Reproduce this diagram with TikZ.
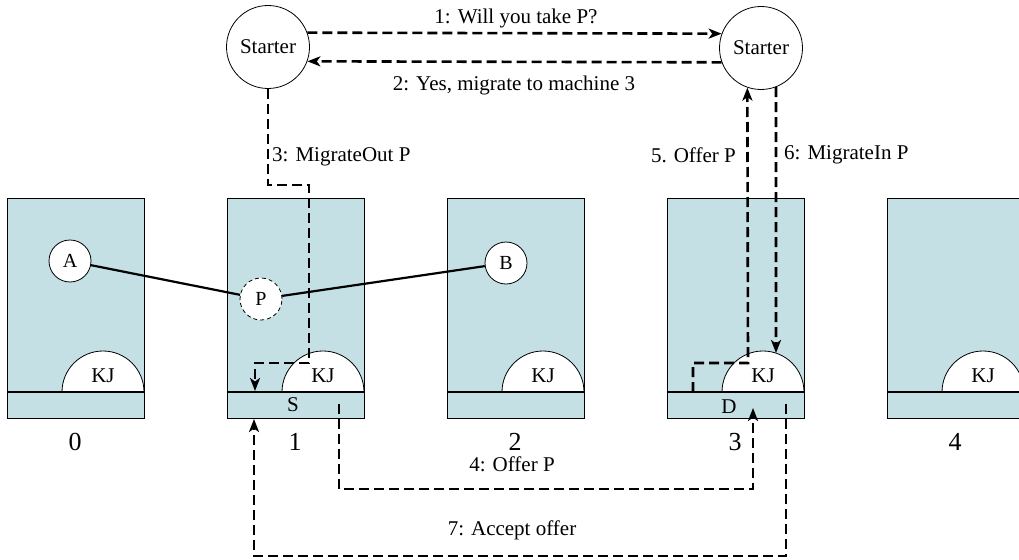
\documentclass[tikz,border=0pt]{standalone}
\usepackage{fontspec}
\setmainfont{Liberation Serif}
\usetikzlibrary{arrows.meta}
\definecolor{mach}{RGB}{197,224,228}
\begin{document}
\begin{tikzpicture}[x=1pt,y=-1pt,
  machbox/.style={draw=black, line width=0.8pt, fill=mach, minimum width=137pt, minimum height=220pt, inner sep=0pt, anchor=north west},
  proc/.style={circle, draw, line width=0.8pt, fill=white, minimum size=42pt, inner sep=0pt, font=\fontsize{20}{24}\selectfont},
  starter/.style={circle, draw, line width=0.8pt, fill=white, minimum size=83pt, inner sep=0pt, font=\fontsize{21}{25}\selectfont},
  msg/.style={draw, line width=2.6pt, dash pattern=on 10pt off 5pt, -{Stealth[length=13pt,width=10pt,inset=3.5pt]}},
  lbl/.style={font=\fontsize{21}{25}\selectfont, inner sep=0pt},
  num/.style={font=\fontsize{26}{30}\selectfont, inner sep=0pt},
  sep/.style={line width=2.2pt},
  link/.style={line width=2.2pt},
  kjarc/.style={draw, line width=0.8pt, fill=white}
]
\useasboundingbox (0,0) rectangle (1019,559);

% machines
\foreach \i in {0,...,4}{
  \node[machbox] (m\i) at ({7+220*\i},198) {};
  \path[kjarc] ({7+220*\i+137-82},392) arc (180:360:41) -- cycle;
  \node[lbl] (kj\i) at ({7+220*\i+137-41},376) {KJ};
  \draw[sep] ({7+220*\i},392) -- ({7+220*\i+137},392);
  \node[num] (n\i) at ({7+220*\i+68},442) {\i};
}
\node[lbl] (S) at (293,405) {S};
\node[lbl] (D) at (729,407) {D};

% processes
\node[proc] (A) at (70,261) {A};
\node[proc, dash pattern=on 4pt off 3pt] (P) at (261,299) {P};
\node[proc] (B) at (506,263) {B};
\draw[link] (A) -- (P);
\draw[link] (P) -- (B);

% starters
\node[starter] (st1) at (268,47) {Starter};
\node[starter] (st2) at (761,48) {Starter};

% coordinates
\coordinate (c3a) at (309,185);
\coordinate (c3b) at (309,363);
\coordinate (c3c) at (255,363);
\coordinate (c3e) at (255,391);
\coordinate (c5s) at (693,392);
\coordinate (c5a) at (693,363);
\coordinate (c5b) at (748,363);
\coordinate (c6e) at (776,353);
\coordinate (c4s) at (339,404);
\coordinate (c4a) at (339,489);
\coordinate (c4b) at (753,489);
\coordinate (c4e) at (753,408);
\coordinate (c7s) at (786,404);
\coordinate (c7a) at (786,556);
\coordinate (c7b) at (254,556);
\coordinate (c7e) at (254,419);

% messages
\draw[msg] (st1.20) -- (st2.160);
\draw[msg] (st2.200) -- (st1.-20);
\draw[msg] (st1.south) |- (c3a) -- (c3b) -- (c3c) -- (c3e);
\draw[msg] (c5s) -- (c5a) -- (c5b) -- (st2.251.5);
\draw[msg] (st2.291.5) -- (c6e);
\draw[msg] (c4s) -- (c4a) -- (c4b) -- (c4e);
\draw[msg] (c7s) -- (c7a) -- (c7b) -- (c7e);

% labels
\node[lbl] (l1) at (516,18) {1: Will you take P?};
\node[lbl] (l2) at (514,85) {2: Yes, migrate to machine 3};
\node[lbl, anchor=west] (l3) at (272,157) {3: MigrateOut P};
\node[lbl] (l4) at (512,464) {4: Offer P};
\node[lbl, anchor=east] (l5) at (736,155) {5. Offer P};
\node[lbl, anchor=west] (l6) at (784,155) {6: MigrateIn P};
\node[lbl] (l7) at (512,530) {7: Accept offer};
\end{tikzpicture}
\end{document}
